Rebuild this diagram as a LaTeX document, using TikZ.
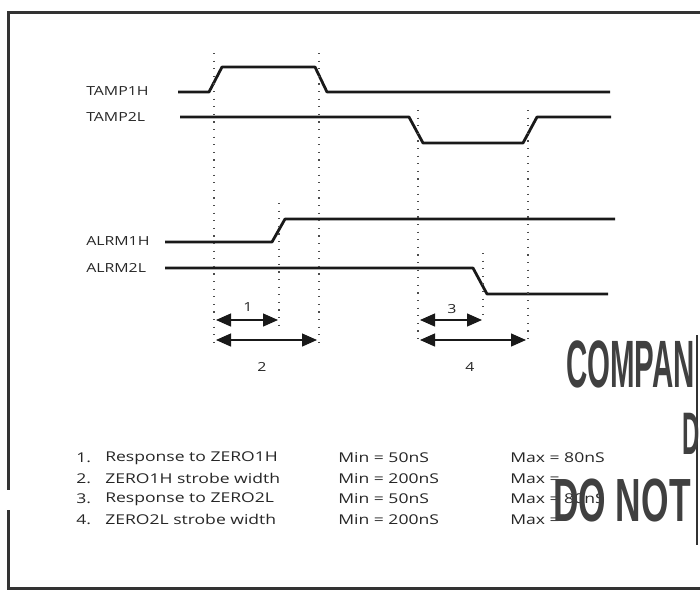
\documentclass[tikz,border=0pt]{standalone}
\usepackage{fontspec}
\setmainfont{Open Sans}
\newfontfamily\stampfont{Liberation Sans}
\usetikzlibrary{arrows.meta}

\begin{document}
\begin{tikzpicture}[x=1pt,y=-1pt,
    sig/.style={line width=2.8pt,black!90,line join=round},
    guide/.style={line width=1.2pt,black!70,dash pattern=on 1.2pt off 6.4pt},
    spanarrow/.style={line width=1.3pt,black!90,{Triangle[length=15pt,width=13pt]}-{Triangle[length=15pt,width=13pt]}},
    lbl/.style={anchor=west,inner sep=0pt,xscale=1.27,black!85,font=\fontsize{12.5}{14}\selectfont},
    legend/.style={anchor=west,inner sep=0pt,xscale=1.3,black!85,font=\fontsize{13.5}{15}\selectfont},
    stamp/.style={anchor=south west,inner sep=0pt,black!75,font=\stampfont\bfseries\fontsize{67}{67}\selectfont}]
\clip (0,0) rectangle (700,592);
\useasboundingbox (0,0) rectangle (700,592);

% frame
\draw[line width=3pt,black!80] (700,12) -- (8,12) -- (8,490);
\draw[line width=3pt,black!80] (8,510) -- (8,588) -- (700,588);
\draw[line width=2pt,black!80] (697,335) -- (697,545);

% signal names
\node[lbl] (tamp1h) at (86,91) {TAMP1H};
\node[lbl] (tamp2l) at (86,117) {TAMP2L};
\node[lbl] (alrm1h) at (86,241) {ALRM1H};
\node[lbl] (alrm2l) at (86,268) {ALRM2L};

% waveforms
\draw[sig] (178,92) -- (209,92) -- (222,67) -- (315,67) -- (327,92) -- (610,92);
\draw[sig] (180,117) -- (409,117) -- (423,143) -- (523,143) -- (537,117) -- (611,117);
\draw[sig] (165,242) -- (272,242) -- (285,219) -- (615,219);
\draw[sig] (165,268) -- (473,268) -- (487,294) -- (608,294);

% timing guides
\foreach \name/\x/\top/\bot in {ga/214/53/345, gb/279/203/327, gc/319/53/345,
                                gd/418/110/345, ge/483/253/318, gf/528/110/345}
{
\coordinate (\name t) at (\x,\top);
\coordinate (\name b) at (\x,\bot);
\draw[guide] (\name t) -- (\name b);
}

% spans
\coordinate (s1l) at (216,320);
\coordinate (s1r) at (278,320);
\coordinate (s2l) at (216,340);
\coordinate (s2r) at (317,340);
\coordinate (s3l) at (420,320);
\coordinate (s3r) at (482,320);
\coordinate (s4l) at (420,340);
\coordinate (s4r) at (526,340);
\draw[spanarrow] (s1l) -- (s1r);
\draw[spanarrow] (s2l) -- (s2r);
\draw[spanarrow] (s3l) -- (s3r);
\draw[spanarrow] (s4l) -- (s4r);
\node[lbl,anchor=center] (n1) at (248,307) {1};
\node[lbl,anchor=center] (n2) at (262,367) {2};
\node[lbl,anchor=center] (n3) at (452,309) {3};
\node[lbl,anchor=center] (n4) at (470,367) {4};

% legend
\foreach \n/\txt/\mn/\mx in {1/Response to ZERO1H/50nS/{= 80nS},
                             2/ZERO1H strobe width/200nS/=,
                             3/Response to ZERO2L/50nS/{= 80nS},
                             4/ZERO2L strobe width/200nS/=}
{
\node[legend] (num\n) at (76,{458+20.5*(\n-1)}) {\n.};
\node[legend] (desc\n) at (105,{458+20.5*(\n-1)}) {\txt};
\node[legend] (min\n) at (338,{458+20.5*(\n-1)}) {Min = \mn};
\node[legend] (max\n) at (510,{458+20.5*(\n-1)}) {Max \mx};
}

% stamp
\node[stamp,xscale=0.44] (company) at (566,388) {COMPAN};
\node[stamp,xscale=0.4,font=\stampfont\bfseries\fontsize{60}{60}\selectfont] (dline) at (682,455) {D};
\node[stamp,xscale=0.58,font=\stampfont\bfseries\fontsize{61}{61}\selectfont] (donot) at (553,522) {DO NOT};
\end{tikzpicture}
\end{document}
